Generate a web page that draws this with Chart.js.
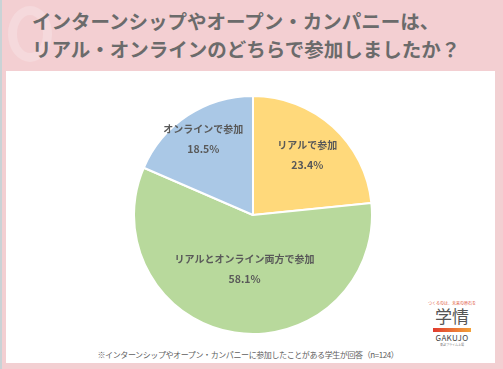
<!DOCTYPE html>
<html lang="ja">
<head>
<meta charset="utf-8">
<script src="https://cdn.jsdelivr.net/npm/chart.js@4.4.0/dist/chart.umd.min.js"></script>
<style>
  html, body { margin: 0; padding: 0; }
  body {
    width: 503px; height: 369px; overflow: hidden; position: relative;
    background: #f3cfd2;
    font-family: "Noto Sans CJK JP", "Noto Sans", sans-serif;
  }
  .edge { position: absolute; left: 0; top: 0; width: 2px; height: 369px; background: #c9d3d6; }
  .swirl {
    position: absolute; left: 8px; top: 6px; width: 44px; height: 56px;
    border: 9px solid #f5d9dc; border-radius: 50%; box-sizing: border-box;
  }
  .title {
    position: absolute; left: 32px; top: 7px; white-space: nowrap;
    color: #6b6b6b; font-weight: 700; font-size: 19.5px; line-height: 28px;
  }
  .panel { position: absolute; left: 6px; top: 71px; width: 489px; height: 292px; background: #fff; }
  #pie-wrap { position: absolute; left: 133px; top: 95px; width: 240px; height: 240px; }
  .note {
    position: absolute; left: 0; top: 349px; width: 496px; text-align: center;
    font-size: 8px; color: #606060; letter-spacing: -0.4px;
  }
  .logo { position: absolute; left: 428px; top: 300px; width: 48px; text-align: center; }
  .logo .tag { font-size: 4px; color: #e0553a; white-space: nowrap; }
  .logo .name { font-size: 17px; color: #555; line-height: 20px; font-weight: 400; }
  .logo .bar { margin: 2px auto 1px; width: 38px; height: 4px; background: linear-gradient(90deg, #e03b2f, #f3a33a); }
  .logo .en { font-size: 8px; color: #444; line-height: 10px; letter-spacing: 0.3px; }
  .logo .sub { font-size: 3px; color: #777; }
</style>
</head>
<body>
<div class="edge"></div>
<div class="swirl"></div>
<div class="title">インターンシップやオープン・カンパニーは、<br>リアル・オンラインのどちらで参加しましたか？</div>
<div class="panel"></div>
<div id="pie-wrap"><canvas id="pie-chart"></canvas></div>
<div class="note">※インターンシップやオープン・カンパニーに参加したことがある学生が回答（n=124）</div>
<div class="logo">
  <div class="tag">つくるのは、未来の原石を</div>
  <div class="name">学情</div>
  <div class="bar"></div>
  <div class="en">GAKUJO</div>
  <div class="sub">東証プライム上場</div>
</div>
<script>
// answer categories, clockwise from the top
const categories = ['リアルで参加', 'リアルとオンライン両方で参加', 'オンラインで参加'];
const shares = [23.4, 58.1, 18.5];

const sliceColors = ['#ffd97b', '#b8d99c', '#aac8e6'];
// how far out from the centre each label sits (fraction of radius)
const labelDistance = [0.68, 0.46, 0.76];

// draw category name + percentage inside each slice
const sliceLabels = {
    id: 'sliceLabels',
    afterDatasetsDraw(chart) {
        const ctx = chart.ctx;
        const meta = chart.getDatasetMeta(0);
        ctx.save();
        ctx.fillStyle = '#595959';
        ctx.textAlign = 'center';
        ctx.textBaseline = 'middle';
        meta.data.forEach((arc, i) => {
            const mid = (arc.startAngle + arc.endAngle) / 2;
            const r = arc.outerRadius * labelDistance[i];
            const x = arc.x + Math.cos(mid) * r;
            const y = arc.y + Math.sin(mid) * r;
            ctx.font = 'bold 10px "Noto Sans CJK JP"';
            ctx.fillText(categories[i], x, y - 10);
            ctx.font = 'bold 10.5px "Noto Sans CJK JP"';
            ctx.fillText(shares[i].toFixed(1) + '%', x, y + 10);
        });
        ctx.restore();
    }
};

const ctx = document.getElementById('pie-chart').getContext('2d');
new Chart(ctx, {
    type: 'pie',
    data: {
        labels: categories,
        datasets: [{
            data: shares,
            backgroundColor: sliceColors,
            borderColor: '#ffffff',
            borderWidth: 2,
            hoverOffset: 0
        }]
    },
    options: {
        responsive: true,
        maintainAspectRatio: false,
        animation: false,
        layout: { padding: 0 },
        plugins: {
            legend: { display: false },
            tooltip: { enabled: false }
        }
    },
    plugins: [sliceLabels]
});
</script>
</body>
</html>
